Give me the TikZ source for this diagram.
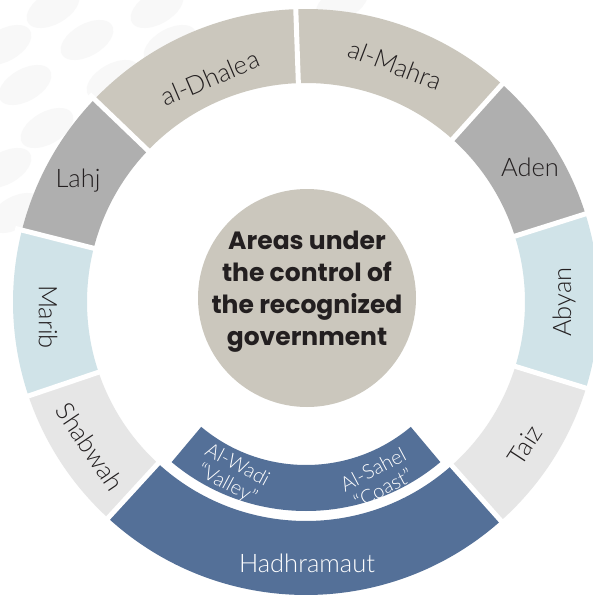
\documentclass[tikz,border=0pt]{standalone}
\usepackage{fontspec}
\setmainfont{Lato Light}
\newfontfamily\popfont{Poppins}
\definecolor{beige}{RGB}{203,199,189}
\definecolor{midgrey}{RGB}{175,175,175}
\definecolor{paleblue}{RGB}{208,227,232}
\definecolor{palegrey}{RGB}{230,230,230}
\definecolor{hadblue}{RGB}{84,112,152}
\definecolor{ink}{RGB}{35,31,32}
\definecolor{blob}{RGB}{248,248,248}
\newcommand\ringseg[5]{%
  \fill[#5] ([shift={(cen)}]#1:#3) arc[start angle=#1, end angle=#2, radius=#3]
    -- ([shift={(cen)}]#2:#4) arc[start angle=#2, end angle=#1, radius=#4] -- cycle;}
\newcommand\ringgap[1]{%
  \draw[white, line width=5pt] ([shift={(cen)}]#1:214) -- ([shift={(cen)}]#1:300);}
\tikzset{
  lbl/.style={text=ink, font=\fontsize{25.5}{30}\selectfont, inner sep=0pt},
  wlbl/.style={text=white, font=\fontsize{20}{21.5}\selectfont, inner sep=0pt, align=center}
}
\begin{document}
\begin{tikzpicture}[x=1pt,y=1pt]
\fill[white] (0,0) rectangle (592,-600);
\useasboundingbox (0,0) rectangle (592,-600);
% faint background blobs
\foreach \bx/\by in {53/8, 157/8, 87/40, 5/45, 25/85, 113/80, 47/128, 5/168, 15/213, 342/3, 170/45}
  \fill[blob, rotate around={30:(\bx,-\by)}] (\bx,-\by) ellipse[x radius=29, y radius=16];
\coordinate (cen) at (306,-302);
% outer ring
\ringseg{17.5}{48}{219}{293}{midgrey}
\ringseg{48}{92}{219}{293}{beige}
\ringseg{92}{136.2}{219}{293}{beige}
\ringseg{136.2}{165.8}{219}{293}{midgrey}
\ringseg{165.8}{198.7}{219}{293}{paleblue}
\ringseg{198.7}{227.5}{219}{293}{palegrey}
\ringseg{227.5}{311.7}{219}{293}{hadblue}
\ringseg{311.7}{342.9}{219}{293}{palegrey}
\ringseg{342.9}{377.5}{219}{293}{paleblue}
\foreach \g in {17.5, 48, 92, 136.2, 165.8, 198.7, 227.5, 311.7, 342.9} {\ringgap{\g}}
% inner band
\ringseg{230}{310}{163}{209}{hadblue}
% centre
\node[circle, fill=beige, minimum size=218pt, inner sep=0pt] (core) at (307,-298) {};
\node[text=ink, align=center, inner sep=0pt, font=\popfont\bfseries\fontsize{25}{32}\selectfont] (title) at (307,-292)
  {Areas under\\the control of\\the recognized\\government};
% labels
\node[lbl, rotate=23] (dhalea) at (210,-78) {al-Dhalea};
\node[lbl, rotate=-21] (mahra) at (395,-65) {al-Mahra};
\node[lbl] (aden) at (530,-167) {Aden};
\node[lbl, rotate=90] (abyan) at (564,-302) {Abyan};
\node[lbl, rotate=57] (taiz) at (525,-445) {Taiz};
\node[lbl, text=white] (hadh) at (307,-563) {Hadhramaut};
\node[lbl, rotate=-56] (shabwah) at (90,-447) {Shabwah};
\node[lbl, rotate=-90] (marib) at (48,-317) {Marib};
\node[lbl] (lahj) at (78,-181) {Lahj};
\node[wlbl, rotate=-28] (wadi) at (232,-475) {Al-Wadi\\“Valley”};
\node[wlbl, rotate=28] (sahel) at (378,-479) {Al-Sahel\\“Coast”};
\end{tikzpicture}
\end{document}
